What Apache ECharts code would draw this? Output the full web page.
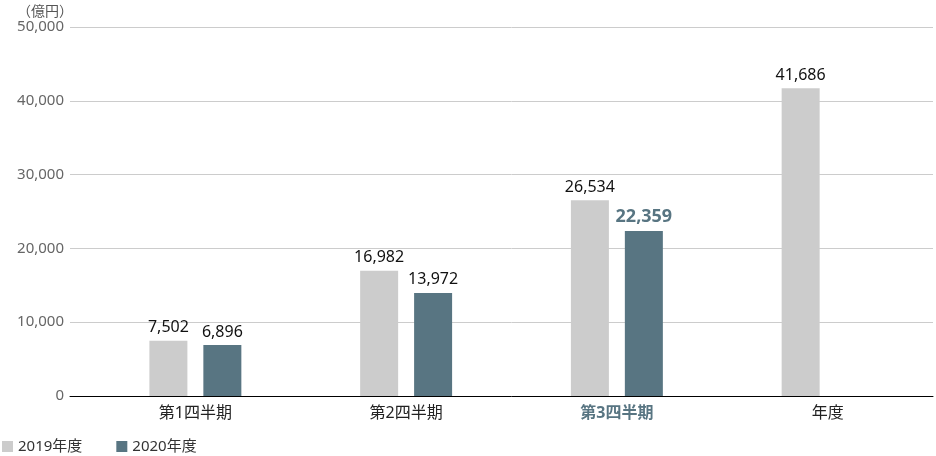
<!DOCTYPE html>
<html>
<head>
<meta charset="utf-8">
<script src="https://cdn.jsdelivr.net/npm/echarts@6/dist/echarts.min.js"></script>
<style>
html, body { margin: 0; padding: 0; background: #fff; }
#main { width: 936px; height: 456px; }
</style>
</head>
<body>
<div id="main"></div>
<script>
var categories = ['第1四半期', '第2四半期', '第3四半期', '年度'];
var sales2019 = [7502, 16982, 26534, 41686];
var sales2020 = [6896, 13972, 22359, null];
var yTicks = [0, 10000, 20000, 30000, 40000, 50000];

var FONT = '"Noto Sans", "Noto Sans CJK JP", sans-serif';
var ACCENT = '#587582';
var current = 2; // 現在の四半期（強調表示）

var myChart = echarts.init(document.getElementById('main'));

function fmt(v) {
	return v == null ? '' : v.toLocaleString('en-US');
}

var data2020 = sales2020.map(function (v, i) {
	if (i === current) {
		return {
			value: v,
			label: { color: ACCENT, fontWeight: 'bold', fontSize: 18 }
		};
	}
	return v;
});

var option = {
	animation: false,
	textStyle: { fontFamily: FONT },
	title: {
		text: '（億円）',
		left: 12,
		top: 0,
		textStyle: { fontSize: 14, fontWeight: 'normal', color: '#555', fontFamily: FONT }
	},
	legend: {
		left: 2,
		bottom: 2,
		padding: 0,
		itemWidth: 11,
		itemHeight: 11,
		itemGap: 34,
		icon: 'rect',
		textStyle: { fontSize: 15, color: '#333', fontFamily: FONT },
		data: ['2019年度', '2020年度']
	},
	grid: [
		{ left: 90, right: 3, top: 27, bottom: 60 },
		{ left: 70, width: 20, top: 27, bottom: 60 }
	],
	xAxis: [{
		type: 'category',
		gridIndex: 0,
		data: categories,
		axisTick: { show: false },
		axisLine: { lineStyle: { color: '#000', width: 1 } },
		axisLabel: {
			margin: 9,
			fontSize: 16,
			color: '#222',
			fontFamily: FONT,
			formatter: function (v, i) {
				return i === current ? '{hl|' + v + '}' : v;
			},
			rich: {
				hl: { color: ACCENT, fontWeight: 'bold', fontSize: 16, fontFamily: FONT }
			}
		}
	}, {
		type: 'category',
		gridIndex: 1,
		data: [''],
		axisTick: { show: false },
		axisLabel: { show: false },
		axisLine: { lineStyle: { color: '#000', width: 1 } }
	}],
	yAxis: [{
		type: 'value',
		gridIndex: 0,
		min: yTicks[0],
		max: yTicks[yTicks.length - 1],
		interval: 10000,
		axisLine: { show: false },
		axisTick: { show: false },
		splitLine: { lineStyle: { color: '#ccc' } },
		axisLabel: {
			margin: 26,
			fontSize: 15,
			color: '#666',
			fontFamily: FONT,
			formatter: function (v) { return fmt(v); }
		}
	}, {
		type: 'value',
		gridIndex: 1,
		min: yTicks[0],
		max: yTicks[yTicks.length - 1],
		interval: 10000,
		axisLine: { show: false },
		axisTick: { show: false },
		axisLabel: { show: false },
		splitLine: { lineStyle: { color: '#ccc' } }
	}],
	series: [{
		name: '2019年度',
		type: 'bar',
		xAxisIndex: 0,
		yAxisIndex: 0,
		barWidth: 38,
		barGap: '42%',
		itemStyle: { color: '#cccccc' },
		label: {
			show: true,
			position: 'top',
			distance: 5,
			fontSize: 16,
			color: '#111',
			fontFamily: FONT,
			formatter: function (p) { return fmt(p.value); }
		},
		data: sales2019
	}, {
		name: '2020年度',
		type: 'bar',
		xAxisIndex: 0,
		yAxisIndex: 0,
		barWidth: 38,
		barGap: '42%',
		itemStyle: { color: ACCENT },
		label: {
			show: true,
			position: 'top',
			distance: 5,
			fontSize: 16,
			color: '#111',
			fontFamily: FONT,
			formatter: function (p) { return fmt(p.value); }
		},
		data: data2020
	}]
};

// 使用刚指定的配置项和数据显示图表。
myChart.setOption(option);
</script>
</body>
</html>
